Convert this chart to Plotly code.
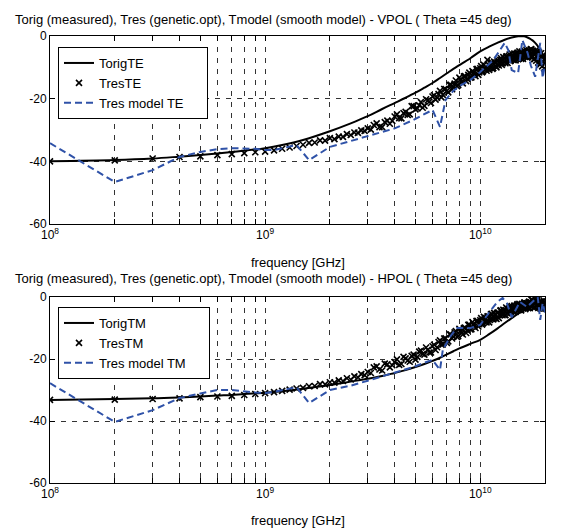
import numpy as np
import plotly.graph_objects as go

# ---------------- data (frequencies in GHz, levels in dB) ----------------
f_orig = [0.1, 0.2, 0.3, 0.4, 0.5, 0.6, 0.7, 0.8, 1.0, 1.2, 1.5, 2.0, 2.5, 3.0, 3.5, 4.0,
          4.5, 5.0, 5.5, 6.0, 6.5, 7.0, 7.5, 8.0, 9.0, 10.0, 11.0, 12.0, 13.0, 14.0, 15.0,
          16.0, 16.5, 17.0, 17.5, 18.0, 18.5, 19.0, 19.5, 20.0]
torig_te = [-40.0, -39.6, -39.1, -38.5, -38.0, -37.5, -37.0, -36.6, -35.8, -34.8, -33.2, -30.4,
            -27.9, -25.6, -23.3, -21.4, -19.7, -18.1, -16.5, -15.0, -13.4, -11.9, -10.5, -9.3,
            -7.1, -4.9, -3.4, -2.2, -1.2, -0.5, -0.1, -0.1, -0.4, -0.8, -1.4, -2.2, -3.2, -4.5,
            -6.2, -8.2]
torig_tm = [-33.2, -32.9, -32.7, -32.4, -32.1, -31.8, -31.6, -31.3, -30.9, -30.4, -29.6, -28.4,
            -27.3, -26.4, -25.5, -24.5, -23.6, -22.6, -21.6, -20.6, -19.6, -18.5, -17.5, -16.6,
            -15.1, -13.8, -12.0, -10.2, -8.4, -6.8, -5.4, -4.3, -3.9, -3.6, -3.3, -3.0, -2.9,
            -2.8, -2.9, -3.0]

f_res = [0.1, 0.2, 0.3, 0.4, 0.5, 0.6, 0.7, 0.8, 0.9, 1.0, 1.1, 1.2, 1.3, 1.4, 1.5, 1.6, 1.7,
         1.8, 1.9, 2.0, 2.1, 2.2, 2.3, 2.4, 2.5, 2.6, 2.7, 2.8, 2.9, 3.0,
         3.2, 3.4, 3.6, 3.8, 4.0, 4.2, 4.4, 4.6, 4.8, 5.0, 5.2, 5.4, 5.6, 5.8, 6.0, 6.2, 6.4,
         6.6, 6.8, 7.0, 7.2, 7.4, 7.6, 7.8, 8.0, 8.2, 8.4, 8.6, 8.8, 9.0, 9.2, 9.4, 9.6, 9.8,
         10.0, 10.2, 10.4, 10.6, 10.8, 11.0, 11.2, 11.4, 11.6, 11.8, 12.0, 12.2, 12.4, 12.6,
         12.8, 13.0, 13.2, 13.4, 13.6, 13.8, 14.0, 14.2, 14.4, 14.6, 14.8, 15.0, 15.2, 15.4,
         15.6, 15.8, 16.0, 16.2, 16.4, 16.6, 16.8, 17.0, 17.2, 17.4, 17.6, 17.8, 18.0, 18.2,
         18.4, 18.6, 18.8, 19.0, 19.2, 19.4, 19.6, 19.8, 20.0]
tres_te = [-40.0, -39.7, -39.1, -38.6, -38.4, -38.0, -37.7, -37.4, -37.1, -36.9, -36.5, -36.0,
           -35.6, -35.1, -34.7, -34.1, -34.0, -33.3, -33.4, -32.6, -32.9, -32.1, -32.2, -31.3,
           -31.6, -30.8, -30.9, -30.1, -30.3, -29.5,
           -28.4, -29.1, -27.5, -28.0, -25.7, -26.2, -24.6, -25.2, -22.4, -23.4, -22.1, -22.9,
           -20.2, -21.0, -19.3, -20.3, -18.5, -19.6, -16.9, -17.5, -15.6, -17.0, -15.2, -16.0,
           -13.3, -14.7, -12.9, -14.4, -12.4, -13.3, -11.2, -12.3, -10.6, -12.4, -10.3, -11.6,
           -9.2, -10.7, -7.6, -10.8, -8.9, -10.5, -8.2, -9.6, -7.7, -9.4, -7.6, -9.2, -6.7, -8.3,
           -6.6, -8.6, -6.4, -8.0, -5.6, -7.5, -5.6, -7.8, -5.7, -7.4, -4.9, -7.0, -5.0, -7.3,
           -4.9, -6.7, -4.4, -6.8, -4.7, -6.5, -4.2, -6.8, -4.7, -7.4, -4.7, -7.9, -4.8, -8.5,
           -5.3, -9.1, -5.5, -9.7, -6.1, -10.3, -7.5]
tres_tm = [-33.2, -33.1, -32.9, -32.7, -32.3, -32.1, -31.9, -31.6, -31.3, -31.0, -30.7, -30.3,
           -29.9, -29.5, -29.3, -28.8, -28.7, -28.1, -28.2, -27.5, -27.6, -26.9, -27.1, -26.2,
           -26.6, -25.6, -25.9, -24.9, -25.2, -24.2,
           -22.7, -23.4, -21.5, -22.7, -21.0, -21.9, -19.3, -20.5, -19.0, -20.2, -17.6, -18.4,
           -16.3, -17.9, -15.9, -17.1, -14.5, -15.4, -13.4, -14.8, -12.0, -13.4, -11.4, -12.9,
           -10.3, -11.7, -10.0, -11.6, -9.0, -10.5, -8.1, -9.5, -7.8, -9.5, -7.5, -8.9, -6.4,
           -8.0, -6.3, -8.2, -5.6, -7.0, -5.1, -6.9, -5.1, -6.8, -4.4, -5.7, -4.1, -5.9, -3.4,
           -5.3, -3.7, -5.1, -2.9, -4.6, -2.8, -4.8, -2.6, -4.2, -2.2, -4.2, -2.3, -3.7, -1.8,
           -3.9, -2.0, -3.4, -1.6, -3.6, -1.7, -3.1, -1.1, -3.4, -1.3, -3.0, -1.1, -3.5, -1.6,
           -3.3, -1.5, -3.8, -2.0, -3.7, -1.9]

# intermediate measurement points (3.1 ... 19.9 GHz)
f_res_mid = [3.1, 3.3, 3.5, 3.7, 3.9, 4.1, 4.3, 4.5, 4.7, 4.9, 5.1, 5.3, 5.5, 5.7, 5.9, 6.1,
             6.3, 6.5, 6.7, 6.9, 7.1, 7.3, 7.5, 7.7, 7.9, 8.1, 8.3, 8.5, 8.7, 8.9, 9.1, 9.3,
             9.5, 9.7, 9.9, 10.1, 10.3, 10.5, 10.7, 10.9, 11.1, 11.3, 11.5, 11.7, 11.9, 12.1,
             12.3, 12.5, 12.7, 12.9, 13.1, 13.3, 13.5, 13.7, 13.9, 14.1, 14.3, 14.5, 14.7,
             14.9, 15.1, 15.3, 15.5, 15.7, 15.9, 16.1, 16.3, 16.5, 16.7, 16.9, 17.1, 17.3,
             17.5, 17.7, 17.9, 18.1, 18.3, 18.5, 18.7, 18.9, 19.1, 19.3, 19.5, 19.7, 19.9]
tres_te_mid = [-29.9, -27.9, -29.1, -27.0, -27.1, -25.0, -26.3, -24.2, -25.0, -22.4, -23.1,
               -21.1, -22.3, -20.6, -21.4, -18.9, -19.7, -17.5, -18.8, -16.9, -18.0, -15.6,
               -16.2, -14.2, -15.7, -13.8, -15.1, -12.8, -13.7, -11.7, -13.2, -11.7, -12.8,
               -10.5, -11.6, -9.6, -11.3, -10.1, -11.1, -9.1, -10.3, -8.4, -10.2, -8.6, -10.0,
               -7.8, -8.7, -7.1, -8.7, -7.1, -8.7, -6.5, -7.6, -5.9, -7.6, -6.3, -7.7, -5.8,
               -7.1, -5.3, -7.2, -5.8, -7.3, -5.3, -6.4, -4.8, -6.5, -5.0, -6.6, -4.6, -5.9,
               -4.3, -6.4, -5.3, -7.3, -5.2, -6.8, -4.9, -7.5, -6.4, -8.6, -6.6, -8.0, -6.5,
               -8.9]
tres_tm_mid = [-24.5, -22.4, -23.7, -21.7, -22.0, -20.1, -21.6, -19.8, -20.9, -18.6, -19.3,
               -17.3, -18.6, -17.0, -17.9, -15.4, -16.2, -14.0, -15.3, -13.3, -14.3, -12.1,
               -12.8, -11.0, -12.6, -10.8, -12.1, -9.9, -10.8, -8.9, -10.4, -8.8, -10.0, -7.7,
               -8.8, -6.8, -8.5, -7.2, -8.2, -6.2, -7.4, -5.4, -7.2, -5.6, -7.1, -5.0, -5.9,
               -4.3, -5.9, -4.3, -5.8, -3.7, -4.7, -3.0, -4.8, -3.5, -4.8, -2.9, -4.1, -2.3,
               -4.2, -2.8, -4.3, -2.3, -3.4, -1.8, -3.5, -2.0, -3.6, -1.5, -2.7, -0.9, -2.8,
               -1.5, -3.4, -1.1, -2.5, -0.5, -2.9, -1.7, -3.8, -1.5, -2.8, -1.1, -3.4]

f_model_te = [0.1, 0.2, 0.3, 0.4, 0.5, 0.6, 0.7, 0.8, 0.9, 1.0, 1.1, 1.4, 1.6, 2.0, 2.5, 3.0,
              3.43, 4.0, 4.88, 5.5, 6.0, 6.5, 6.9, 7.5, 8.0, 9.0, 10.0, 11.5, 12.5, 13.0, 13.5,
              14.0, 15.0, 15.7, 16.6, 17.2, 18.0, 18.5, 19.0, 19.5, 20.0]
tmodel_te = [-34.2, -46.6, -42.8, -38.6, -37.0, -36.1, -35.8, -35.8, -36.0, -36.4, -36.4, -34.8,
             -39.6, -35.4, -33.5, -32.0, -31.0, -29.5, -26.8, -25.0, -23.6, -29.0, -20.4, -17.5,
             -16.0, -14.0, -11.5, -7.7, -4.0, -2.2, -4.5, -10.9, -11.8, -1.3, -5.4, -9.5, -13.0,
             -7.0, -2.2, -13.4, -9.0]
f_model_tm = [0.1, 0.2, 0.3, 0.4, 0.5, 0.6, 0.7, 0.8, 0.9, 1.0, 1.1, 1.4, 1.6, 2.0, 2.5, 3.0,
              3.43, 4.0, 4.88, 5.5, 6.0, 6.5, 6.7, 7.3, 7.8, 9.0, 10.0, 11.0, 12.0, 12.7, 13.3,
              14.0, 15.3, 16.5, 17.5, 18.5, 19.0, 19.5, 20.0]
tmodel_tm = [-27.8, -40.3, -36.5, -32.6, -31.1, -30.0, -30.0, -30.5, -30.8, -31.0, -30.6, -29.1,
             -34.2, -30.0, -28.6, -27.0, -25.8, -24.5, -22.6, -21.2, -20.3, -23.5, -17.0, -12.5,
             -10.0, -10.0, -9.0, -5.0, -1.6, -0.3, -2.0, -6.5, -1.6, -3.2, -1.5, 0.0, -7.4, -2.0,
             -5.0]

x_tick_vals = [1e8, 2e8, 3e8, 4e8, 5e8, 6e8, 7e8, 8e8, 9e8,
               1e9, 2e9, 3e9, 4e9, 5e9, 6e9, 7e9, 8e9, 9e9, 1e10]
x_tick_text = ["10<sup>8</sup>", "", "", "", "", "", "", "", "",
               "10<sup>9</sup>", "", "", "", "", "", "", "", "", "10<sup>10</sup>"]
y_tick_vals = [-60, -40, -20, 0]
y_tick_text = ["-60", "-40", "-20", "0"]

titles = ["Torig (measured), Tres (genetic.opt), Tmodel (smooth model) - VPOL ( Theta =45 deg)",
          "Torig (measured), Tres (genetic.opt), Tmodel (smooth model) - HPOL ( Theta =45 deg)"]
x_title = "frequency [GHz]"

# ---------------- figure ----------------
GHZ = 1e9
FONT = "Liberation Sans, Arial, sans-serif"
BLUE = "#2f52a8"
PAD = "\u00a0" * 5  # widens the legend box to match the reference frame

fig = go.Figure()

def add_panel(xa, ya, leg, t_o, t_r, t_r_mid, f_m, t_m, suffix):
    fig.add_trace(go.Scatter(x=np.array(f_orig) * GHZ, y=t_o, mode="lines",
                             line=dict(color="black", width=2), name="Torig" + suffix,
                             xaxis=xa, yaxis=ya, legend=leg, line_shape="spline"))
    fx = np.concatenate([np.array(f_res), np.array(f_res_mid)]) * GHZ
    fy = np.concatenate([np.array(t_r), np.array(t_r_mid)])
    fig.add_trace(go.Scatter(x=fx, y=fy, mode="markers",
                             marker=dict(symbol="x-thin", size=6, color="black",
                                         line=dict(color="black", width=1.6)),
                             name="Tres" + suffix, xaxis=xa, yaxis=ya, legend=leg))
    fig.add_trace(go.Scatter(x=np.array(f_m) * GHZ, y=t_m, mode="lines",
                             line=dict(color=BLUE, width=2, dash="7px,4px"),
                             name="Tres model " + suffix + PAD, xaxis=xa, yaxis=ya, legend=leg))

add_panel("x", "y", "legend", torig_te, tres_te, tres_te_mid, f_model_te, tmodel_te, "TE")
add_panel("x2", "y2", "legend2", torig_tm, tres_tm, tres_tm_mid, f_model_tm, tmodel_tm, "TM")

W, H = 586, 529
ML, MR, MT, MB = 50, 41, 36, 46
PH = H - MT - MB

def py(px):
    return (H - MB - px) / PH

def pxx(px):
    return (px - ML) / (W - ML - MR)

xcommon = dict(type="log", range=[8, np.log10(2e10)], tickvals=x_tick_vals, ticktext=x_tick_text,
               showgrid=True, gridcolor="#333333", griddash="5px,6px", gridwidth=1,
               ticks="inside", ticklen=5, tickcolor="black", mirror="allticks",
               showline=True, linecolor="black", linewidth=1, zeroline=False, automargin=False,
               tickfont=dict(family=FONT, size=12, color="black"))
ycommon = dict(range=[-60, 0], tickvals=y_tick_vals, ticktext=y_tick_text,
               showgrid=True, gridcolor="#333333", griddash="5px,6px", gridwidth=1,
               ticks="inside", ticklen=5, tickcolor="black", mirror="allticks",
               showline=True, linecolor="black", linewidth=1, zeroline=False, automargin=False,
               tickfont=dict(family=FONT, size=12, color="black"))

legcommon = dict(xanchor="left", yanchor="top", bgcolor="white", bordercolor="black",
                 borderwidth=1, font=dict(family=FONT, size=13, color="black"),
                 itemwidth=30, tracegroupgap=0)

def text_ann(text, xpx, ypx, anchor, size):
    return dict(text=text, xref="paper", yref="paper", x=pxx(xpx), y=py(ypx),
                xanchor=anchor, yanchor="middle", showarrow=False,
                font=dict(family=FONT, size=size, color="black"))

fig.update_layout(
    width=W, height=H, autosize=False,
    margin=dict(l=ML, r=MR, t=MT, b=MB),
    paper_bgcolor="white", plot_bgcolor="white",
    font=dict(family=FONT, color="black"),
    xaxis=dict(domain=[0, 1], anchor="y", **xcommon),
    yaxis=dict(domain=[py(224), 1], anchor="x", **ycommon),
    xaxis2=dict(domain=[0, 1], anchor="y2", **xcommon),
    yaxis2=dict(domain=[0, py(297)], anchor="x2", **ycommon),
    legend=dict(x=pxx(58), y=py(47), **legcommon),
    legend2=dict(x=pxx(58), y=py(307), **legcommon),
    annotations=[
        text_ann(titles[0], 13, 20, "left", 13),
        text_ann(titles[1], 13, 278, "left", 13),
        text_ann(x_title, 297.5, 262, "center", 13),
        text_ann(x_title, 297.5, 520, "center", 13),
    ],
)

fig.write_html("out.html", config={"displayModeBar": False},
               post_script="document.body.style.margin='0';")
